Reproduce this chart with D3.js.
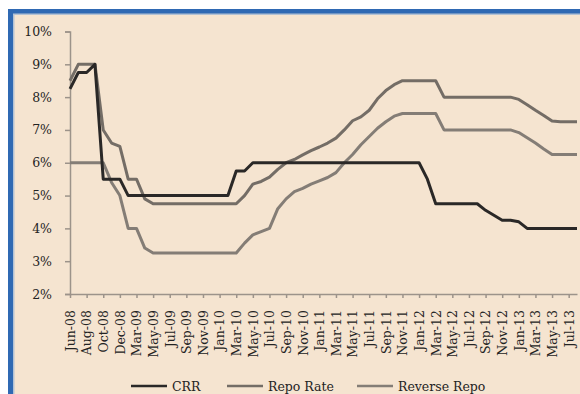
<!DOCTYPE html>
<html>
<head>
<meta charset="utf-8">
<script src="https://cdn.jsdelivr.net/npm/d3@7"></script>
<style>
  html, body { margin: 0; padding: 0; background: #ffffff; }
  svg { display: block; }
  .tick text, .legend text { font-family: "DejaVu Serif", serif; fill: #232323; }
</style>
</head>
<body>
<svg id="chart" width="580" height="394"></svg>
<script>
// Monthly observation points (Feb-09 is not in the series)
const categories = [
  "Jun-08","Jul-08","Aug-08","Sep-08","Oct-08","Nov-08","Dec-08","Jan-09",
  "Mar-09","Apr-09","May-09","Jun-09","Jul-09","Aug-09","Sep-09","Oct-09","Nov-09","Dec-09",
  "Jan-10","Feb-10","Mar-10","Apr-10","May-10","Jun-10","Jul-10","Aug-10","Sep-10","Oct-10","Nov-10","Dec-10",
  "Jan-11","Feb-11","Mar-11","Apr-11","May-11","Jun-11","Jul-11","Aug-11","Sep-11","Oct-11","Nov-11","Dec-11",
  "Jan-12","Feb-12","Mar-12","Apr-12","May-12","Jun-12","Jul-12","Aug-12","Sep-12","Oct-12","Nov-12","Dec-12",
  "Jan-13","Feb-13","Mar-13","Apr-13","May-13","Jun-13","Jul-13","Aug-13"
];

// Cash reserve ratio (%)
const crr = [
  8.25, 8.75, 8.75, 9.0, 5.5, 5.5, 5.5, 5.0,
  5.0, 5.0, 5.0, 5.0, 5.0, 5.0, 5.0, 5.0, 5.0, 5.0,
  5.0, 5.0, 5.75, 5.75, 6.0, 6.0, 6.0, 6.0, 6.0, 6.0, 6.0, 6.0,
  6.0, 6.0, 6.0, 6.0, 6.0, 6.0, 6.0, 6.0, 6.0, 6.0, 6.0, 6.0,
  6.0, 5.5, 4.75, 4.75, 4.75, 4.75, 4.75, 4.75, 4.55, 4.4, 4.25, 4.25,
  4.2, 4.0, 4.0, 4.0, 4.0, 4.0, 4.0, 4.0
];

// Repo rate (%)
const repo = [
  8.5, 9.0, 9.0, 9.0, 7.0, 6.6, 6.5, 5.5,
  5.5, 4.9, 4.75, 4.75, 4.75, 4.75, 4.75, 4.75, 4.75, 4.75,
  4.75, 4.75, 4.75, 5.0, 5.35, 5.43, 5.56, 5.8, 6.0, 6.1, 6.24, 6.37,
  6.48, 6.6, 6.75, 7.0, 7.28, 7.4, 7.6, 7.95, 8.2, 8.38, 8.5, 8.5,
  8.5, 8.5, 8.5, 8.0, 8.0, 8.0, 8.0, 8.0, 8.0, 8.0, 8.0, 8.0,
  7.93, 7.77, 7.6, 7.44, 7.27, 7.25, 7.25, 7.25
];

// Reverse repo rate (%)
const reverseRepo = [
  6.0, 6.0, 6.0, 6.0, 6.0, 5.4, 5.0, 4.0,
  4.0, 3.4, 3.25, 3.25, 3.25, 3.25, 3.25, 3.25, 3.25, 3.25,
  3.25, 3.25, 3.25, 3.55, 3.8, 3.9, 4.0, 4.6, 4.9, 5.12, 5.22, 5.35,
  5.45, 5.55, 5.7, 6.0, 6.25, 6.55, 6.8, 7.05, 7.25, 7.42, 7.5, 7.5,
  7.5, 7.5, 7.5, 7.0, 7.0, 7.0, 7.0, 7.0, 7.0, 7.0, 7.0, 7.0,
  6.92, 6.76, 6.6, 6.42, 6.25, 6.25, 6.25, 6.25
];

const yTicks = [2, 3, 4, 5, 6, 7, 8, 9, 10];

const seriesNames = ["CRR", "Repo Rate", "Reverse Repo"];
const seriesColors = ["#2a2827", "#746d66", "#847d76"];
const seriesValues = [crr, repo, reverseRepo];

const svg = d3.select("#chart");

// Framed panel
svg.append("rect").attr("x", 8).attr("y", 9).attr("width", 580).attr("height", 400)
  .attr("fill", "#2f69b3");
svg.append("rect").attr("x", 13).attr("y", 13.5).attr("width", 580).attr("height", 400)
  .attr("fill", "#b3c2d4");
svg.append("rect").attr("x", 14.5).attr("y", 15).attr("width", 580).attr("height", 400)
  .attr("fill", "#f5e4d0");

const x = d3.scalePoint().domain(categories).range([70, 577]);
const y = d3.scaleLinear().domain([2, 10]).range([294, 31.5]);

const axisColor = "#9c938a";

// Y axis
const gy = svg.append("g").attr("transform", "translate(70,0)")
  .call(d3.axisLeft(y).tickValues(yTicks).tickSize(5).tickPadding(13)
    .tickFormat(d => d + "%"));
gy.select(".domain").attr("stroke", axisColor).attr("stroke-width", 1.5);
gy.selectAll(".tick line").attr("stroke", axisColor).attr("stroke-width", 1.5);
gy.selectAll(".tick text").style("font-size", "12.5px");

// X axis
const gx = svg.append("g").attr("transform", "translate(0,294)")
  .call(d3.axisBottom(x).tickValues(categories.filter((d, i) => i % 2 === 0))
    .tickSize(4).tickSizeOuter(0));
gx.select(".domain").attr("stroke", axisColor).attr("stroke-width", 1.5);
gx.selectAll(".tick line").attr("stroke", axisColor).attr("stroke-width", 1.5);
gx.selectAll(".tick text")
  .style("font-size", "12.5px")
  .attr("transform", "rotate(-90)")
  .attr("text-anchor", "end")
  .attr("x", -16)
  .attr("y", 0)
  .attr("dy", "0.35em");

// Rate lines
const line = d3.line()
  .x((d, i) => x(categories[i]))
  .y(d => y(d));

[2, 1, 0].forEach(k => {
  svg.append("path")
    .datum(seriesValues[k])
    .attr("fill", "none")
    .attr("stroke", seriesColors[k])
    .attr("stroke-width", 3)
    .attr("stroke-linejoin", "round")
    .attr("d", line);
});

// Legend
const legendX = [131, 227, 357];
const legend = svg.append("g").attr("class", "legend");
seriesNames.forEach((name, k) => {
  legend.append("line")
    .attr("x1", legendX[k]).attr("x2", legendX[k] + 36)
    .attr("y1", 386).attr("y2", 386)
    .attr("stroke", seriesColors[k]).attr("stroke-width", 2.5);
  legend.append("text")
    .attr("x", legendX[k] + 41).attr("y", 390.5)
    .style("font-size", "12.5px")
    .text(name);
});
</script>
</body>
</html>
